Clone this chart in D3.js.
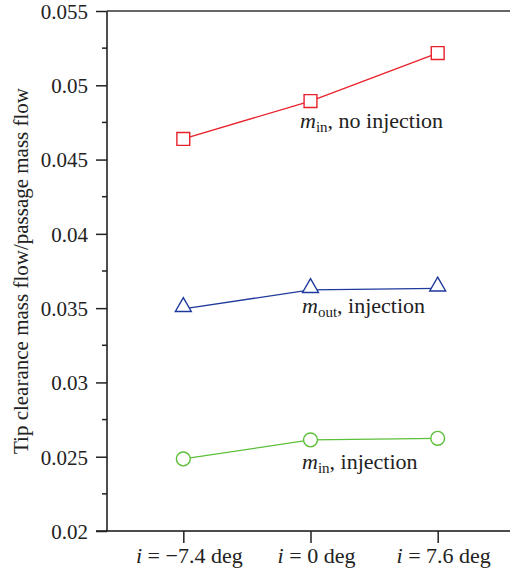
<!DOCTYPE html>
<html>
<head>
<meta charset="utf-8">
<script src="https://cdn.jsdelivr.net/npm/d3@7"></script>
<style>
  body { margin: 0; background: #fff; }
  svg { display: block; }
  svg text { font-family: "Liberation Serif", "Times New Roman", serif !important; fill: #222; }
</style>
</head>
<body>
<svg id="chart" width="510" height="577"></svg>
<script>
// incidence categories
var categories = ["i = \u22127.4 deg", "i = 0 deg", "i = 7.6 deg"];
var catLeft = ["i", "i", "i"];
var catRight = [" = \u22127.4 deg", " = 0 deg", " = 7.6 deg"];

// ratio of tip clearance mass flow to passage mass flow
var minNoInjection = [0.04639, 0.04894, 0.05217];
var moutInjection  = [0.03495, 0.03623, 0.03633];
var minInjection   = [0.02485, 0.02613, 0.02624];

var yTicks = [0.02, 0.025, 0.03, 0.035, 0.04, 0.045, 0.05, 0.055];
var yMinor = [0.0225, 0.0275, 0.0325, 0.0375, 0.0425, 0.0475, 0.0525];

var serif = '"Liberation Serif", "Times New Roman", serif';
var svg = d3.select("#chart");
var padL = 107, padT = 11, padB = 531, padR = 514;

var x = d3.scalePoint().domain(categories).range([padL, padR]).padding(0.6);
var y = d3.scaleLinear().domain([0.02, 0.055]).range([padB, padT]);

// frame lines (left, top, bottom)
svg.append("line").attr("x1", padL).attr("x2", padL).attr("y1", padT).attr("y2", padB)
    .attr("stroke", "#222").attr("stroke-width", 1.6);
svg.append("line").attr("x1", padL).attr("x2", 510).attr("y1", padT).attr("y2", padT)
    .attr("stroke", "#333").attr("stroke-width", 1.6);
svg.append("line").attr("x1", padL - 11).attr("x2", 510).attr("y1", padB).attr("y2", padB)
    .attr("stroke", "#111").attr("stroke-width", 1.6);

// y axis ticks
var yAxis = d3.axisLeft(y).tickValues(yTicks).tickSize(11).tickPadding(8)
    .tickFormat(function(d){ return String(+d.toFixed(3)); });
var ga = svg.append("g").attr("transform", "translate(" + padL + ",0)").call(yAxis)
    .attr("font-family", serif);
ga.select(".domain").remove();
ga.selectAll(".tick line").attr("stroke", "#222").attr("stroke-width", 1.5);
ga.selectAll(".tick text").style("font-family", serif).style("font-size", "21px")
    .attr("fill", "#222").attr("dy", "0.35em");

svg.append("g").selectAll("line").data(yMinor).enter().append("line")
    .attr("x1", padL - 5).attr("x2", padL)
    .attr("y1", function(d){ return y(d); }).attr("y2", function(d){ return y(d); })
    .attr("stroke", "#222").attr("stroke-width", 1.5);

// x axis ticks
var gx = svg.append("g").attr("transform", "translate(0," + padB + ")")
    .call(d3.axisBottom(x).tickSize(12).tickFormat(""));
gx.select(".domain").remove();
gx.selectAll(".tick line").attr("stroke", "#222").attr("stroke-width", 1.5);

var xl = svg.append("g").selectAll("text").data(categories).enter().append("text")
    .attr("x", function(d){ return x(d) + 6; }).attr("y", 563)
    .attr("text-anchor", "middle").style("font-family", serif).style("font-size", "22px");
xl.append("tspan").style("font-style", "italic").text(function(d, i){ return catLeft[i]; });
xl.append("tspan").text(function(d, i){ return catRight[i]; });

// y axis title
svg.append("text")
    .attr("transform", "translate(27.5," + ((padT + padB) / 2) + ") rotate(-90)")
    .attr("text-anchor", "middle").style("font-family", serif).style("font-size", "21px")
    .text("Tip clearance mass flow/passage mass flow");

var line = d3.line()
    .x(function(d, i){ return x(categories[i]); })
    .y(function(d){ return y(d); });

function series(vals, color, shape, label, sub, lx, ly) {
    svg.append("path").datum(vals).attr("d", line)
        .attr("fill", "none").attr("stroke", color).attr("stroke-width", 1.3);
    var size = shape === d3.symbolTriangle ? 110 : (shape === d3.symbolSquare ? 165 : 150);
    var sym = d3.symbol().type(shape).size(size);
    svg.append("g").selectAll("path").data(vals).enter().append("path")
        .attr("d", sym)
        .attr("transform", function(d, i){
            var dy = shape === d3.symbolTriangle ? -2 : 0;
            return "translate(" + x(categories[i]) + "," + (y(d) + dy) + ")";
        })
        .attr("fill", "#fff").attr("stroke", color).attr("stroke-width", 1.4);
    var t = svg.append("text").attr("x", lx).attr("y", ly)
        .style("font-family", serif).style("font-size", "22px");
    t.append("tspan").style("font-style", "italic").text("m");
    t.append("tspan").style("font-size", "15px").attr("dy", 4).text(sub);
    t.append("tspan").attr("dy", -4).text(label);
}

series(minNoInjection, "#e8202a", d3.symbolSquare, ", no injection", "in", 300, 128);
series(moutInjection, "#1f3a9c", d3.symbolTriangle, ", injection", "out", 302, 313);
series(minInjection, "#5cbf3a", d3.symbolCircle, ", injection", "in", 302, 469);
</script>
</body>
</html>
